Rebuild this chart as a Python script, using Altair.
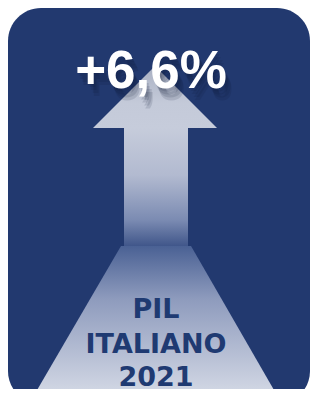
import altair as alt
import pandas as pd

# ---- data (page-pixel geometry of the infographic) ----
panel_x, panel_x2, panel_y, panel_y2 = [8], [310], [8], [404]
head_x = [93, 155, 217]
head_top = [128, 66, 128]
head_base = [128, 128, 128]
shaft_x, shaft_x2, shaft_y, shaft_y2 = [124], [188], [128], [246]
road_y = [246, 397]
road_left = [121, 33]
road_right = [191, 278]
value_label = ["+6,6%"]
value_x, value_y = [151], [88]
caption_lines = ["PIL", "ITALIANO", "2021"]
caption_x = [156, 156, 156]
caption_y = [318, 353, 386]

W, H = 302, 381
xs = alt.Scale(domain=[8, 310], nice=False, zero=False)
ys = alt.Scale(domain=[8, 389], nice=False, zero=False, reverse=True)
NAVY = "#22396f"

def X(f):
    return alt.X(f, type="quantitative", scale=xs, axis=None)

def Y(f):
    return alt.Y(f, type="quantitative", scale=ys, axis=None)

panel_df = pd.DataFrame({"x": panel_x, "x2": panel_x2, "y": panel_y, "y2": panel_y2})
panel = alt.Chart(panel_df).mark_rect(fill=NAVY, cornerRadius=33).encode(
    x=X("x"), x2="x2", y=Y("y"), y2="y2")

road_df = pd.DataFrame({"y": road_y, "l": road_left, "r": road_right})
road_grad = alt.Gradient(
    gradient="linear",
    stops=[alt.GradientStop(color="#4a6194", offset=0),
           alt.GradientStop(color="#8e9bbd", offset=0.35),
           alt.GradientStop(color="#d5dae6", offset=1)],
    x1=0, x2=0, y1=0, y2=1)
road = alt.Chart(road_df).mark_area(orient="horizontal", fill=road_grad).encode(
    y=Y("y"), x=X("l"), x2="r")

shaft_df = pd.DataFrame({"x": shaft_x, "x2": shaft_x2, "y": shaft_y, "y2": shaft_y2})
shaft_grad = alt.Gradient(
    gradient="linear",
    stops=[alt.GradientStop(color="#c6ccdb", offset=0),
           alt.GradientStop(color="#b2bad0", offset=0.4),
           alt.GradientStop(color="#7b8bb2", offset=0.78),
           alt.GradientStop(color="#40568a", offset=1)],
    x1=0, x2=0, y1=0, y2=1)
shaft = alt.Chart(shaft_df).mark_rect(fill=shaft_grad).encode(
    x=X("x"), x2="x2", y=Y("y"), y2="y2")

head_df = pd.DataFrame({"x": head_x, "t": head_top, "b": head_base})
head_grad = alt.Gradient(
    gradient="linear",
    stops=[alt.GradientStop(color="#a9b0c2", offset=0),
           alt.GradientStop(color="#c4cad9", offset=0.6),
           alt.GradientStop(color="#c6ccdb", offset=1)],
    x1=0, x2=0, y1=0, y2=1)
head = alt.Chart(head_df).mark_area(fill=head_grad).encode(
    x=X("x"), y=Y("t"), y2="b")

val_df = pd.DataFrame({"x": value_x, "y": value_y, "t": value_label})
shadows = []
for dx, dy in [(2, 3), (3, 6), (5, 9), (6, 12)]:
    shadows.append(
        alt.Chart(val_df).mark_text(
            font="Liberation Sans", fontSize=53, fontWeight="bold",
            color="#0b1632", opacity=0.12, align="center",
            baseline="alphabetic", dx=dx, dy=dy
        ).encode(x=X("x"), y=Y("y"), text="t")
    )
value = alt.Chart(val_df).mark_text(
    font="Liberation Sans", fontSize=53, fontWeight="bold",
    color="white", align="center", baseline="alphabetic"
).encode(x=X("x"), y=Y("y"), text="t")

cap_df = pd.DataFrame({"x": caption_x, "y": caption_y, "t": caption_lines})
caption = alt.Chart(cap_df).mark_text(
    font="DejaVu Sans", fontSize=27, fontWeight="bold",
    color="#1f3a72", align="center", baseline="alphabetic"
).encode(x=X("x"), y=Y("y"), text="t")

chart = alt.layer(panel, road, shaft, head, *shadows, value, caption).properties(
    width=W, height=H, padding=0, autosize=alt.AutoSizeParams(type="none"),
    background="white"
).configure_view(stroke=None)

chart.save("out.html", embed_options={"renderer": "svg", "actions": False})
